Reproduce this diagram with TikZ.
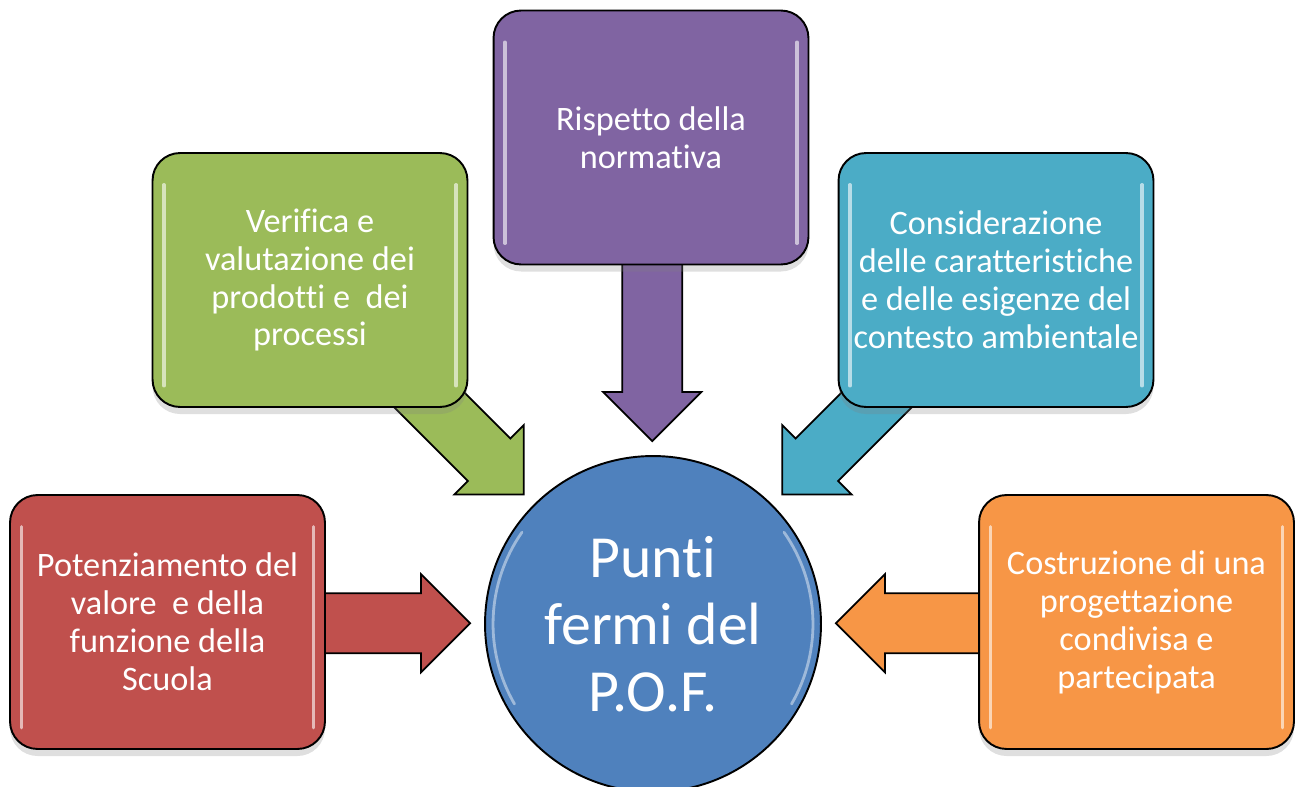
\documentclass[tikz,border=0pt]{standalone}
\usepackage{fontspec}
\setmainfont[Ligatures={NoCommon,NoContextual,NoRequired}, RawFeature=-calt]{Carlito}
\usepackage{tikz}
\usetikzlibrary{calc,backgrounds,shadows}

\definecolor{pofred}{HTML}{C0504D}
\definecolor{pofgreen}{HTML}{9BBB59}
\definecolor{pofpurple}{HTML}{8064A2}
\definecolor{pofcyan}{HTML}{4BACC6}
\definecolor{poforange}{HTML}{F79646}
\definecolor{pofblue}{HTML}{4F81BD}

\tikzset{
  box/.style={draw=black, line width=1.1pt, rounded corners=0.55cm,
    minimum width=6.3cm, minimum height=5.08cm, align=center, text=white,
    font=\fontsize{19.5}{21.6}\selectfont,
    drop shadow={opacity=0.25, shadow xshift=0pt, shadow yshift=-4pt},
    path picture={
      \draw[white, opacity=0.6, line width=1.8pt, line cap=round]
        ([shift={(6.5pt,-18pt)}]path picture bounding box.north west) -- ([shift={(6.5pt,12pt)}]path picture bounding box.south west)
        ([shift={(-6.5pt,-18pt)}]path picture bounding box.north east) -- ([shift={(-6.5pt,12pt)}]path picture bounding box.south east);
    }},
  pofcircle/.style={circle, draw=black, line width=1.1pt, fill=pofblue,
    minimum size=6.72cm, align=center, text=white,
    font=\fontsize{34}{38}\selectfont,
    path picture={
      \draw[white, opacity=0.45, line width=1.6pt, line cap=round]
        ($(path picture bounding box.center)+(145:3.2cm)$) arc[start angle=145, end angle=210, radius=3.2cm]
        ($(path picture bounding box.center)+(-30:3.2cm)$) arc[start angle=-30, end angle=35, radius=3.2cm];
    }},
  arr/.style={draw=black, line width=1pt, line join=miter}
}

% block arrow from a box towards the circle
\newcommand\pofarrow[3]{%
  \coordinate (#1-tip) at ($(pof.center)!3.66cm!(#1.center)$);
  \draw[arr, fill=#3, shift={(#1-tip)}, rotate=#2]
    (0,0) -- (-49,-49) -- (-49,-30) -- (-200,-30) -- (-200,30) -- (-49,30) -- (-49,49) -- cycle;}

\begin{document}
\begin{tikzpicture}[x=0.02cm, y=-0.02cm]
\useasboundingbox (0,0) rectangle (1301,787);

\node[box, fill=pofred] (pot) at (167.5,622) {Potenziamento del\\valore \ e della\\funzione della\\Scuola};
\node[box, fill=pofgreen] (ver) at (310,280) {Verifica e\\valutazione dei\\prodotti e \ dei\\processi};
\node[box, fill=pofpurple] (risp) at (651,137.5) {Rispetto della\\normativa};
\node[box, fill=pofcyan] (cons) at (996,280) {Considerazione\\delle caratteristiche\\e delle esigenze del\\contesto ambientale};
\node[box, fill=poforange] (costr) at (1136.5,622) {Costruzione di una\\progettazione\\condivisa e\\partecipata};
\node[pofcircle] (pof) at (653,624) {Punti\\fermi del\\P.O.F.};

\begin{scope}[on background layer]
\pofarrow{pot}{0}{pofred}
\pofarrow{ver}{-45}{pofgreen}
\pofarrow{risp}{-90}{pofpurple}
\pofarrow{cons}{-135}{pofcyan}
\pofarrow{costr}{180}{poforange}
\end{scope}
\end{tikzpicture}
\end{document}
